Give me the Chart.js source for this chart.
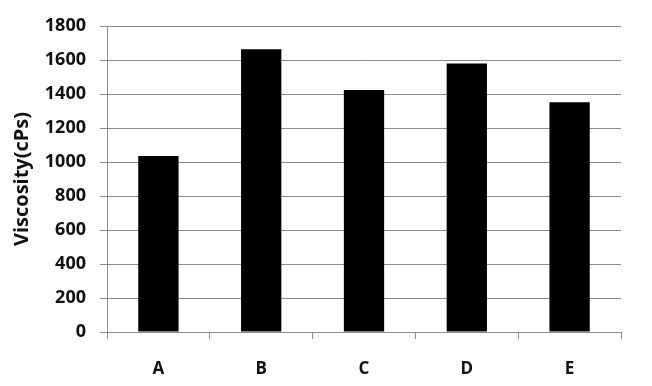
<!DOCTYPE html>
<html>
<head>
<meta charset="utf-8">
<script src="https://cdn.jsdelivr.net/npm/chart.js@4"></script>
<style>
  html, body { margin: 0; padding: 0; background: #fff; }
  #wrap { width: 652px; height: 386px; }
</style>
</head>
<body>
<div id="wrap"><canvas id="chart" width="652" height="386"></canvas></div>
<script>
const categories = ['A', 'B', 'C', 'D', 'E'];
const viscosity = [1035, 1663, 1423, 1580, 1351];
const yTicks = [0, 200, 400, 600, 800, 1000, 1200, 1400, 1600, 1800];

const fontFamily = '"Open Sans", "Liberation Sans", sans-serif';

const ctx = document.getElementById('chart');
new Chart(ctx, {
  type: 'bar',
  data: {
    labels: categories,
    datasets: [{
      label: 'Viscosity',
      data: viscosity,
      backgroundColor: '#000000',
      borderWidth: 0,
      barPercentage: 0.8,
      categoryPercentage: 0.49
    }]
  },
  options: {
    responsive: false,
    animation: false,
    devicePixelRatio: 1,
    layout: {
      padding: { left: 10, right: 31, top: 26, bottom: 6 }
    },
    plugins: {
      legend: { display: false },
      tooltip: { enabled: false }
    },
    scales: {
      x: {
        grid: {
          drawOnChartArea: false,
          drawTicks: true,
          tickLength: 7,
          color: '#8c8c8c'
        },
        border: { color: '#8c8c8c', width: 1 },
        ticks: {
          color: '#111',
          padding: 20,
          font: { family: fontFamily, size: 17, weight: 'bold' }
        },
        afterFit: (scale) => { scale.height = 48; }
      },
      y: {
        min: 0,
        max: 1800,
        afterBuildTicks: (scale) => {
          scale.ticks = yTicks.map(v => ({ value: v }));
        },
        grid: {
          color: '#8c8c8c',
          tickLength: 7
        },
        border: { color: '#8c8c8c', width: 1 },
        ticks: {
          color: '#111',
          padding: 14,
          callback: (value) => String(value),
          font: { family: fontFamily, size: 18, weight: 'bold' }
        },
        title: {
          display: true,
          text: 'Viscosity(cPs)',
          color: '#111',
          padding: { top: 0, bottom: 2 },
          font: { family: fontFamily, size: 20, weight: 'bold' }
        },
        afterFit: (scale) => { scale.width = 97; }
      }
    }
  }
});
</script>
</body>
</html>
